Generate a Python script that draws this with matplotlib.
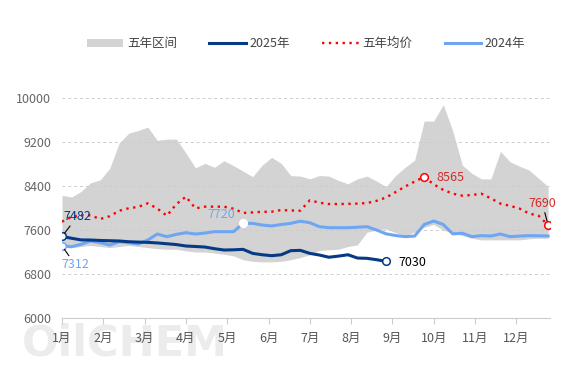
import matplotlib

matplotlib.use("Agg")
import matplotlib.pyplot as plt
import numpy as np

plt.rcParams["font.family"] = ["Noto Sans CJK SC", "DejaVu Sans"]

# weekly series, week index 0..51
band_high = [8230, 8200, 8300, 8460, 8510, 8720, 9180, 9360, 9410, 9470,
             9230, 9250, 9254, 9000, 8730, 8812, 8740, 8860, 8770, 8670,
             8570, 8780, 8920, 8810, 8590, 8580, 8530, 8590, 8580, 8500,
             8440, 8530, 8580, 8490, 8390, 8590, 8740, 8870, 9580, 9580,
             9880, 9400, 8780, 8630, 8530, 8530, 9030, 8840, 8760, 8690,
             8540, 8390]
band_low = [7280, 7280, 7300, 7320, 7300, 7280, 7300, 7320, 7300, 7280,
            7260, 7250, 7250, 7220, 7200, 7200, 7180, 7160, 7130, 7060,
            7030, 7020, 7020, 7030, 7060, 7100, 7150, 7230, 7240, 7250,
            7300, 7330, 7560, 7600, 7620, 7550, 7500, 7560, 7650, 7700,
            7600, 7540, 7500, 7450, 7420, 7420, 7420, 7420, 7420, 7440,
            7450, 7450]
avg5 = [7751, 7842, 7870, 7866, 7800, 7850, 7950, 7995, 8020, 8085,
        7990, 7860, 8070, 8206, 7994, 8024, 8024, 8024, 7987, 7910,
        7920, 7930, 7933, 7963, 7955, 7951, 8140, 8097, 8072, 8072,
        8075, 8080, 8090, 8130, 8190, 8290, 8390, 8480, 8565, 8430,
        8330, 8260, 8224, 8236, 8260, 8176, 8080, 8040, 7990, 7900,
        7860, 7690]
y2025 = [7482, 7450, 7420, 7418, 7410, 7405, 7400, 7387, 7380, 7375,
         7365, 7350, 7335, 7309, 7300, 7290, 7260, 7236, 7240, 7248,
         7175, 7150, 7133, 7150, 7224, 7230, 7175, 7145, 7105, 7125,
         7150, 7090, 7085, 7060, 7030]
y2024 = [7312, 7296, 7340, 7400, 7370, 7327, 7387, 7370, 7345, 7418,
         7527, 7478, 7520, 7551, 7527, 7545, 7570, 7570, 7570, 7720,
         7721, 7690, 7673, 7700, 7721, 7760, 7733, 7660, 7642, 7642,
         7642, 7650, 7660, 7600, 7530, 7500, 7479, 7490, 7700, 7763,
         7700, 7530, 7540, 7480, 7497, 7491, 7527, 7479, 7490, 7497,
         7495, 7491]
months = [f"{m}月" for m in range(1, 13)]
yticks = [6000, 6800, 7600, 8400, 9200, 10000]

C_BAND = "#d3d3d3"
C_2025 = "#063a84"
C_AVG = "#ff0000"
C_2024 = "#6fa6f4"

fig = plt.figure(figsize=(5.67, 3.78), dpi=100)

# watermark, behind everything
fig.text(0.038, 0.06, "OilCHEM", fontsize=31, fontweight="bold",
         color="#ececec", zorder=-5, family="DejaVu Sans")

ax = fig.add_axes([62 / 567, 60 / 378, 488 / 567, 220 / 378])
ax.set_facecolor("none")

w = np.arange(len(band_high))
w25 = np.arange(len(y2025))

ax.fill_between(w, band_low, band_high, color=C_BAND, lw=0, zorder=1,
                label="五年区间")
ax.plot(w25, y2025, color=C_2025, lw=2.2, zorder=4, label="2025年")
ax.plot(w, avg5, color=C_AVG, lw=1.7, linestyle=(0, (1, 1.9)), zorder=3,
        label="五年均价")
ax.plot(w, y2024, color=C_2024, lw=2.2, zorder=3, label="2024年")

# highlighted points
mk = dict(marker="o", ms=5.5, mfc="white", mew=1.1, zorder=6, ls="none")
ax.plot(0, y2025[0], mec=C_2025, **mk)
ax.plot(w25[-1], y2025[-1], mec=C_2025, **mk)
ax.plot(0, y2024[0], mec=C_2024, **mk)
ax.plot(19, y2024[19], mec="white", **mk)
ax.plot(38, avg5[38], mec=C_AVG, **mk)
ax.plot(51, avg5[51], mec=C_AVG, **mk)

lead = dict(arrowstyle="-", color="black", lw=0.8, shrinkA=0, shrinkB=3)
ax.annotate(f"{y2025[0]}", xy=(0, y2025[0]), xytext=(1.6, 7842),
            color=C_2025, fontsize=9, ha="center", va="center",
            arrowprops=lead, zorder=7)
ax.annotate(f"{y2024[0]}", xy=(0, y2024[0]), xytext=(1.4, 6964),
            color=C_2024, fontsize=9, ha="center", va="center",
            arrowprops=lead, zorder=7)
ax.text(16.7, 7890, f"{y2024[19]}", color=C_2024, fontsize=9,
        ha="center", va="center", zorder=7)
ax.text(39.3, 8560, f"{avg5[38]}", color="#d62a2a", fontsize=9,
        ha="left", va="center", zorder=7)
ax.annotate(f"{avg5[51]}", xy=(51, avg5[51]), xytext=(50.4, 8085),
            color="#d62a2a", fontsize=9, ha="center", va="center",
            arrowprops=lead, zorder=7)
ax.text(35.3, 7010, f"{y2025[-1]}", color="black", fontsize=9,
        ha="left", va="center", zorder=7)

ax.set_xlim(0, 51.2)
ax.set_ylim(6000, 10000)
ax.set_yticks(yticks)
ax.set_yticklabels([str(v) for v in yticks], color="#666666", fontsize=9)
ax.set_xticks([k * 52 / 12 for k in range(12)])
ax.set_xticklabels(months, color="#555555", fontsize=9)
ax.tick_params(axis="y", length=0, pad=8)
ax.tick_params(axis="x", length=4, color="#cccccc", pad=6)
ax.grid(axis="y", color="#cccccc", linestyle=(0, (3, 3)), lw=0.7)
ax.grid(axis="x", visible=False)
for s in ("top", "right", "left"):
    ax.spines[s].set_visible(False)
ax.spines["bottom"].set_color("#cccccc")
ax.spines["bottom"].set_zorder(2)

leg = fig.legend(loc="center", bbox_to_anchor=(0.54, 0.884), ncol=4,
                 frameon=False, fontsize=9, handlelength=2.9,
                 handletextpad=0.3, columnspacing=2.6)
for t in leg.get_texts():
    t.set_color("#444444")

fig.savefig("out.png", dpi=100)
